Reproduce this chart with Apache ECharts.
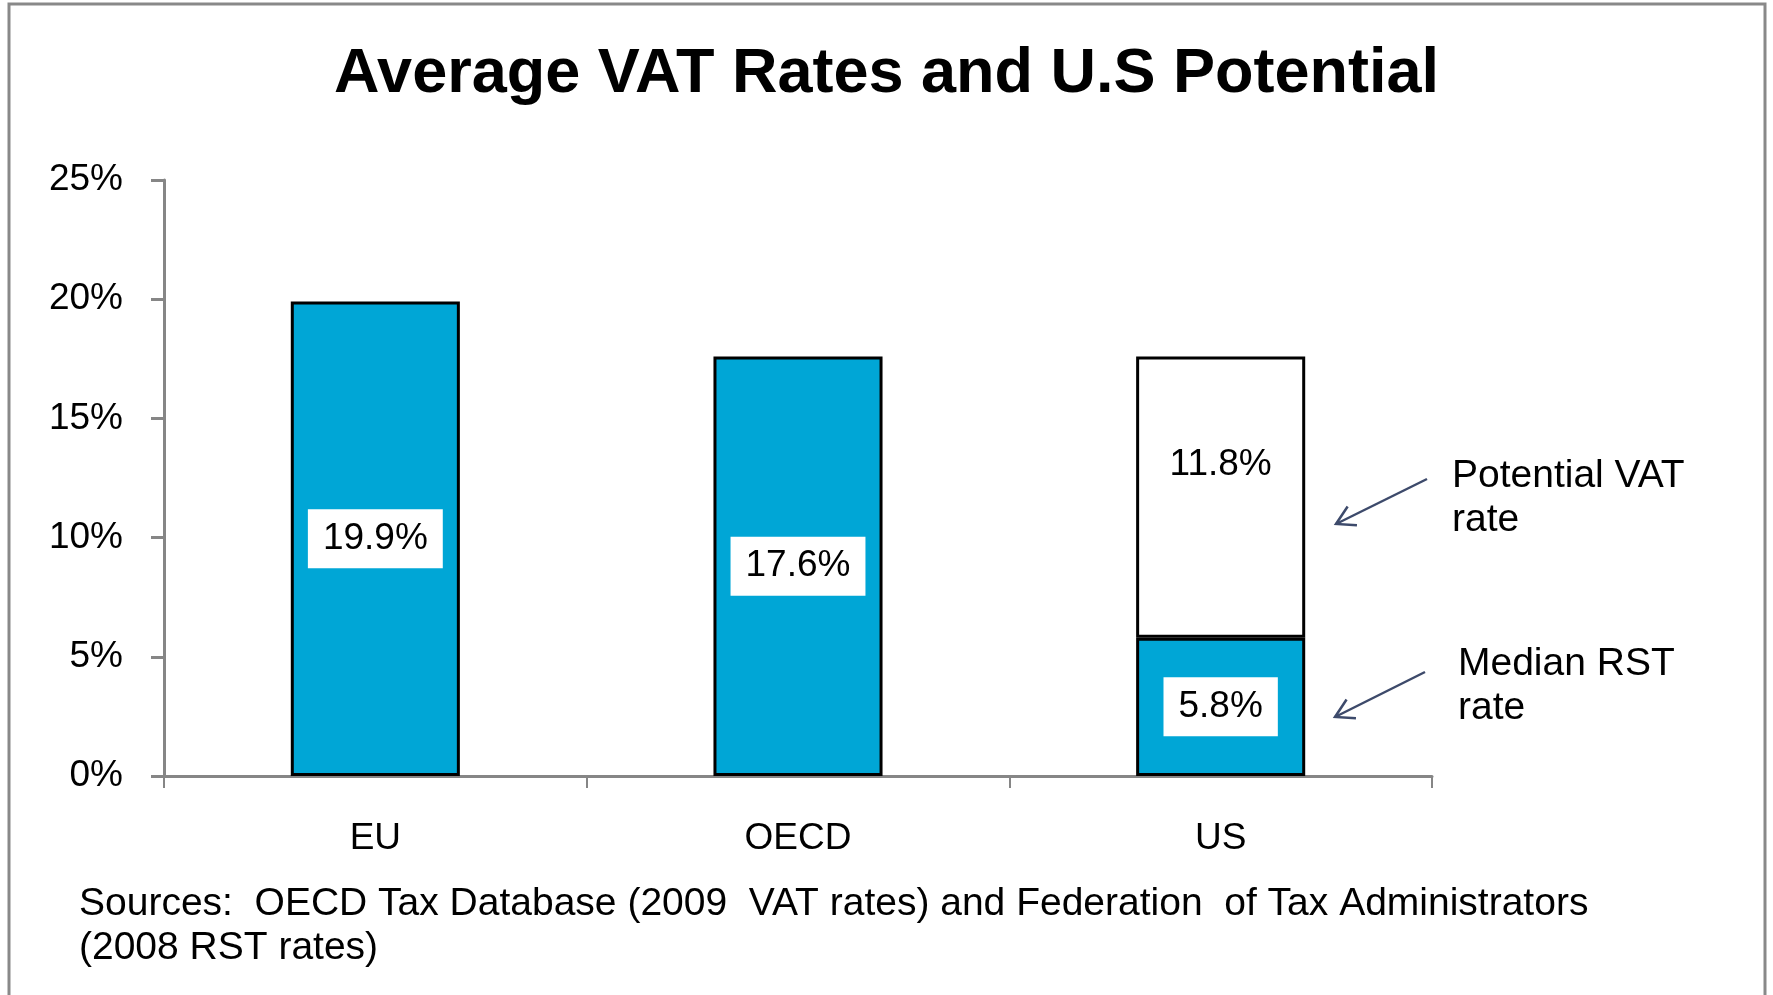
<!DOCTYPE html>
<html>
<head>
<meta charset="utf-8">
<title>Average VAT Rates and U.S Potential</title>
<script src="https://cdn.jsdelivr.net/npm/echarts@6/dist/echarts.min.js"></script>
<style>
  html, body { margin: 0; padding: 0; background: #fff; }
  #chart { width: 1773px; height: 995px; }
</style>
</head>
<body>
<div id="chart"></div>
<script>
  // data
  const categories = ["EU", "OECD", "US"];
  const baseRates = [19.9, 17.6, 5.8];       // VAT (EU, OECD) / median RST (US)
  const potentialVat = ["-", "-", 11.8];     // potential US VAT on top of RST
  const yMin = 0;
  const yMax = 25;
  const yStep = 5;

  const FONT = '"Liberation Sans", Arial, sans-serif';
  const BLUE = "#00a6d6";
  const AXIS = "#868686";

  // arrow from tail to tip, with an open head
  function arrow(tail, tip) {
    const ang = Math.atan2(tail[1] - tip[1], tail[0] - tip[0]);
    const len = 21, spread = Math.PI / 6;
    const b1 = [tip[0] + len * Math.cos(ang + spread), tip[1] + len * Math.sin(ang + spread)];
    const b2 = [tip[0] + len * Math.cos(ang - spread), tip[1] + len * Math.sin(ang - spread)];
    const style = { stroke: "#3d4a6b", lineWidth: 2.5, fill: null };
    return [
      { type: "polyline", silent: true, shape: { points: [tail, tip] }, style },
      { type: "polyline", silent: true, shape: { points: [b1, tip, b2] }, style }
    ];
  }

  const labelBox = {
    show: true,
    formatter: "{c}%",
    color: "#000",
    fontFamily: FONT,
    fontSize: 37,
    backgroundColor: "#fff",
    padding: [11, 15]
  };

  const chart = echarts.init(document.getElementById("chart"));
  chart.setOption({
    animation: false,
    backgroundColor: "#fff",
    title: {
      text: "Average VAT Rates and U.S Potential",
      left: "center",
      top: 38,
      textStyle: { fontFamily: FONT, fontSize: 63, fontWeight: "bold", color: "#000" }
    },
    grid: { left: 164, right: 341, top: 180, bottom: 219, containLabel: false },
    xAxis: {
      type: "category",
      data: categories,
      axisLine: { lineStyle: { color: AXIS, width: 3 } },
      axisTick: { show: true, length: 12, lineStyle: { color: AXIS, width: 2 } },
      axisLabel: { margin: 44, color: "#000", fontFamily: FONT, fontSize: 37 }
    },
    yAxis: {
      type: "value",
      min: yMin,
      max: yMax,
      interval: yStep,
      splitLine: { show: false },
      axisLine: { show: true, lineStyle: { color: AXIS, width: 3 } },
      axisTick: { show: true, length: 13, lineStyle: { color: AXIS, width: 3 } },
      axisLabel: { margin: 41, formatter: "{value}%", color: "#000", fontFamily: FONT, fontSize: 37 }
    },
    series: [
      {
        name: "Rate",
        type: "bar",
        stack: "rate",
        barWidth: "40%",
        data: baseRates,
        itemStyle: { color: BLUE, borderColor: "#000", borderWidth: 3 },
        label: Object.assign({ position: "inside" }, labelBox)
      },
      {
        name: "Potential VAT",
        type: "bar",
        stack: "rate",
        barWidth: "40%",
        data: potentialVat,
        itemStyle: { color: "#fff", borderColor: "#000", borderWidth: 3 },
        label: Object.assign({ position: "insideTop", distance: 79 }, labelBox)
      }
    ],
    graphic: [
      {
        type: "rect", silent: true, z: 100,
        shape: { x: 9, y: 4, width: 1756, height: 1000 },
        style: { fill: null, stroke: "#898989", lineWidth: 3 }
      },
      {
        type: "text", left: 1452, top: 454,
        style: { text: "Potential VAT\nrate", font: "39px " + FONT, lineHeight: 44, fill: "#000" }
      },
      {
        type: "text", left: 1458, top: 642,
        style: { text: "Median RST\nrate", font: "39px " + FONT, lineHeight: 44, fill: "#000" }
      },
      {
        type: "text", left: 79, top: 882,
        style: {
          text: "Sources:  OECD Tax Database (2009  VAT rates) and Federation  of Tax Administrators\n(2008 RST rates)",
          font: "39px " + FONT, lineHeight: 44, fill: "#000"
        }
      },
      ...arrow([1427, 479], [1336, 524]),
      ...arrow([1425, 672], [1335, 717])
    ]
  });
</script>
</body>
</html>
